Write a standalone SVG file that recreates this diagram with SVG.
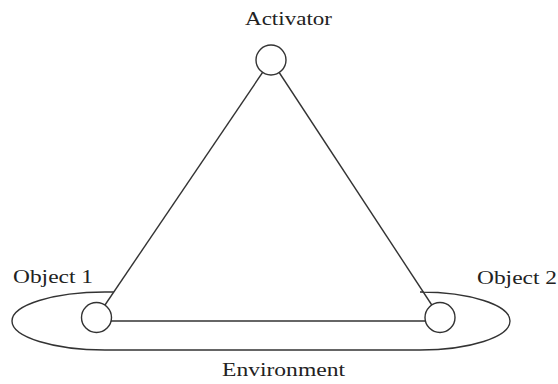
<svg xmlns="http://www.w3.org/2000/svg" width="558" height="384" viewBox="0 0 558 384">
<style>
.ln{fill:none;stroke:#333;stroke-width:1.4}
.nd{fill:#fff;stroke:#333;stroke-width:1.4}
.lb{font-family:"Liberation Serif","Times New Roman",serif;font-size:19px;fill:#222}
</style>
<rect width="558" height="384" fill="#fff"/>
<g id="environment">
<path class="ln" d="M113.8 292 H105 A93 29 0 0 0 105 350 H420 A90 29 0 0 0 420 292 H423.3"/>
<text class="lb" x="222" y="376" textLength="123" lengthAdjust="spacingAndGlyphs">Environment</text>
</g>
<g id="connectors">
<line class="ln" x1="271" y1="60" x2="96.5" y2="317.5"/>
<line class="ln" x1="271" y1="60" x2="440" y2="317.5"/>
<line class="ln" x1="96.5" y1="321" x2="440" y2="321"/>
</g>
<g id="activator">
<circle class="nd" cx="271" cy="60" r="15"/>
<text class="lb" x="245" y="25" textLength="87" lengthAdjust="spacingAndGlyphs">Activator</text>
</g>
<g id="object1">
<circle class="nd" cx="96.5" cy="317.5" r="15"/>
<text class="lb" x="13" y="283" textLength="80" lengthAdjust="spacingAndGlyphs">Object 1</text>
</g>
<g id="object2">
<circle class="nd" cx="440" cy="317.5" r="15"/>
<text class="lb" x="477" y="284" textLength="80" lengthAdjust="spacingAndGlyphs">Object 2</text>
</g>
</svg>
